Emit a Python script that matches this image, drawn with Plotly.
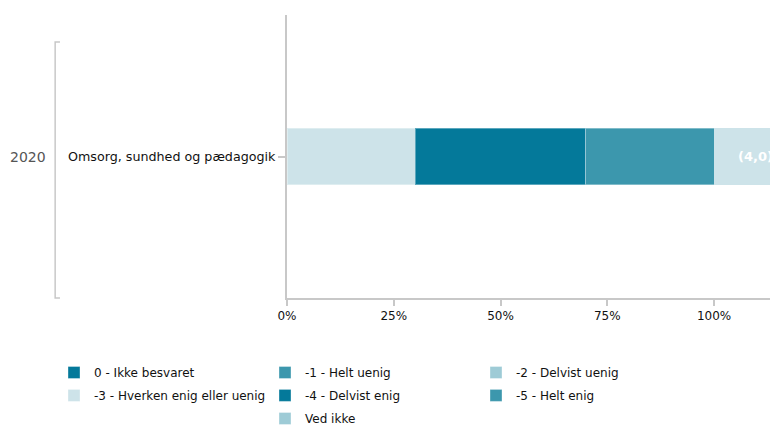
import plotly.graph_objects as go

year = "2020"
category = "Omsorg, sundhed og pædagogik"
answers = ["0 - Ikke besvaret", "-1 - Helt uenig", "-2 - Delvist uenig",
           "-3 - Hverken enig eller uenig", "-4 - Delvist enig", "-5 - Helt enig",
           "Ved ikke"]
shares = [0, 0, 0, 0.30, 0.40, 0.30, 0]
colors = ["#04799a", "#3c97ad", "#9ecbd6", "#cde3e9", "#04799a", "#3c97ad", "#9ecbd6"]
score_label = "(4,0)"
score_width = 0.194

FONT = "Tahoma, DejaVu Sans, sans-serif"
AXIS = "#c8c8c8"

# legend rows: three rows of three columns, "Ved ikke" sits in the middle column
legend_of = ["legend", "legend", "legend", "legend2", "legend2", "legend2", "legend3"]

fig = go.Figure()
for name, val, col, lg in zip(answers, shares, colors, legend_of):
    fig.add_trace(go.Bar(
        x=[val if val else None], y=[category], orientation="h", name=name,
        legend=lg,
        marker=dict(color=col, line=dict(color="rgba(255,255,255,0.35)", width=1)),
    ))

# score box after the 100% mark
fig.add_trace(go.Bar(
    x=[score_width], y=[category], orientation="h", showlegend=False,
    marker=dict(color="#cde3e9", line=dict(width=0)), hoverinfo="skip",
))
fig.add_annotation(text="<b>" + score_label + "</b>", x=sum(shares) + score_width / 2,
                   xref="x", y=category, yref="y", showarrow=False,
                   font=dict(size=13, color="white", family=FONT))

fig.add_annotation(text=year, x=-0.4948, xref="paper", xanchor="right",
                   y=category, yref="y", showarrow=False,
                   font=dict(size=14, color="#555555", family=FONT))
fig.add_shape(type="path", xref="paper", yref="paper",
              path="M -0.470 0.905 L -0.480 0.905 L -0.480 0 L -0.470 0",
              line=dict(color=AXIS, width=1.5))

leg = dict(orientation="h", xanchor="left", yanchor="top", traceorder="normal",
           entrywidth=166, entrywidthmode="pixels", itemwidth=30,
           font=dict(size=12, family=FONT), bgcolor="rgba(0,0,0,0)")
fig.update_layout(
    width=770, height=426,
    margin=dict(l=287, r=0, t=15, b=128, autoexpand=False),
    barmode="stack", bargap=0.8,
    plot_bgcolor="white", paper_bgcolor="white",
    font=dict(family=FONT, size=12, color="#111111"),
    legend=dict(leg, x=-0.4824, y=-0.212),
    legend2=dict(leg, x=-0.4824, y=-0.293),
    legend3=dict(leg, x=-0.4824 + 211 / 483, y=-0.3745),
)
fig.update_xaxes(range=[0, 1.131], tickvals=[0, 0.25, 0.5, 0.75, 1], tickformat=".0%",
                 showgrid=False, zeroline=False, showline=True, linecolor=AXIS,
                 linewidth=2, ticks="outside", ticklen=6, tickcolor=AXIS, tickwidth=2,
                 automargin=False)
fig.update_yaxes(showgrid=False, zeroline=False, showline=True, linecolor=AXIS,
                 linewidth=2, ticks="outside", ticklen=7, tickcolor=AXIS, tickwidth=2,
                 tickfont=dict(size=12.7), automargin=False)

fig.write_html("out.html", config={"displayModeBar": False},
               post_script="document.body.style.margin='0';")
